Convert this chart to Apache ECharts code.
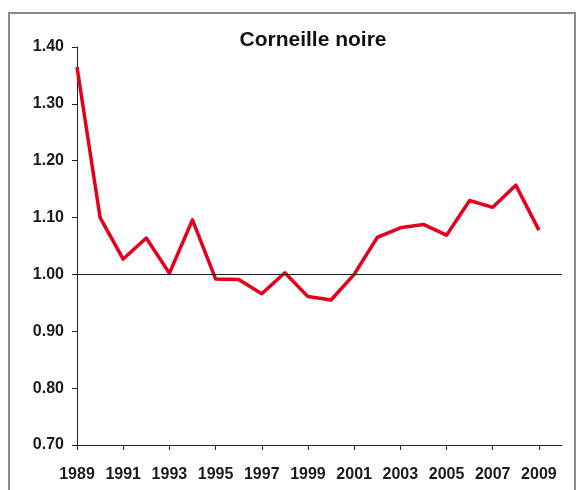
<!DOCTYPE html>
<html>
<head>
<meta charset="utf-8">
<script src="https://cdn.jsdelivr.net/npm/echarts@6/dist/echarts.min.js"></script>
<style>html,body{margin:0;padding:0;background:#fff}#c{width:585px;height:490px}</style>
</head>
<body>
<div id="c"></div>
<script>
const titleText = "Corneille noire";
const years = ["1989","1990","1991","1992","1993","1994","1995","1996","1997","1998","1999","2000","2001","2002","2003","2004","2005","2006","2007","2008","2009","2010"];
const values = [1.365,1.100,1.027,1.064,1.002,1.096,0.992,0.991,0.966,1.003,0.961,0.955,1.000,1.065,1.082,1.088,1.069,1.130,1.118,1.157,1.078,null];
const yTicks = {min:0.70, max:1.40, interval:0.10};
const refLevel = 1.00;

const chart = echarts.init(document.getElementById('c'), null, {renderer:'canvas'});
const fontFam = '"Liberation Sans", Arial, sans-serif';
chart.setOption({
  animation:false,
  backgroundColor:'#fff',
  graphic:[{type:'rect', shape:{x:9,y:13,width:566,height:500}, style:{fill:'none', stroke:'#8a8a8a', lineWidth:2}, z:-1}],
  title:{text:titleText, left:308, top:25, textAlign:'center',
    textStyle:{fontFamily:fontFam, fontWeight:'bold', fontSize:21, color:'#111'}},
  grid:{left:77, top:47, right:23, bottom:45, containLabel:false},
  xAxis:{type:'category', data:years, boundaryGap:false,
    axisLine:{lineStyle:{color:'#222', width:1}},
    axisTick:{interval:1, length:5, lineStyle:{color:'#222'}},
    axisLabel:{interval:1, color:'#1a1a1a', fontFamily:fontFam, fontWeight:'bold', fontSize:16, margin:22},
    splitLine:{show:false}},
  yAxis:{type:'value', min:yTicks.min, max:yTicks.max, interval:yTicks.interval,
    axisLine:{show:true, lineStyle:{color:'#222', width:1}},
    axisTick:{show:true, length:5, lineStyle:{color:'#222'}},
    axisLabel:{color:'#1a1a1a', fontFamily:fontFam, fontWeight:'bold', fontSize:16, margin:13, formatter:v=>v.toFixed(2)},
    splitLine:{show:false}},
  series:[{type:'line', data:values, symbol:'none', connectNulls:false,
    lineStyle:{color:'#e3001b', width:3.5, join:'round'},
    markLine:{symbol:['none','none'], silent:true, label:{show:false},
      lineStyle:{color:'#222', width:1, type:'solid'}, data:[{yAxis:refLevel}]}, z:3}]
});
</script>
</body>
</html>
